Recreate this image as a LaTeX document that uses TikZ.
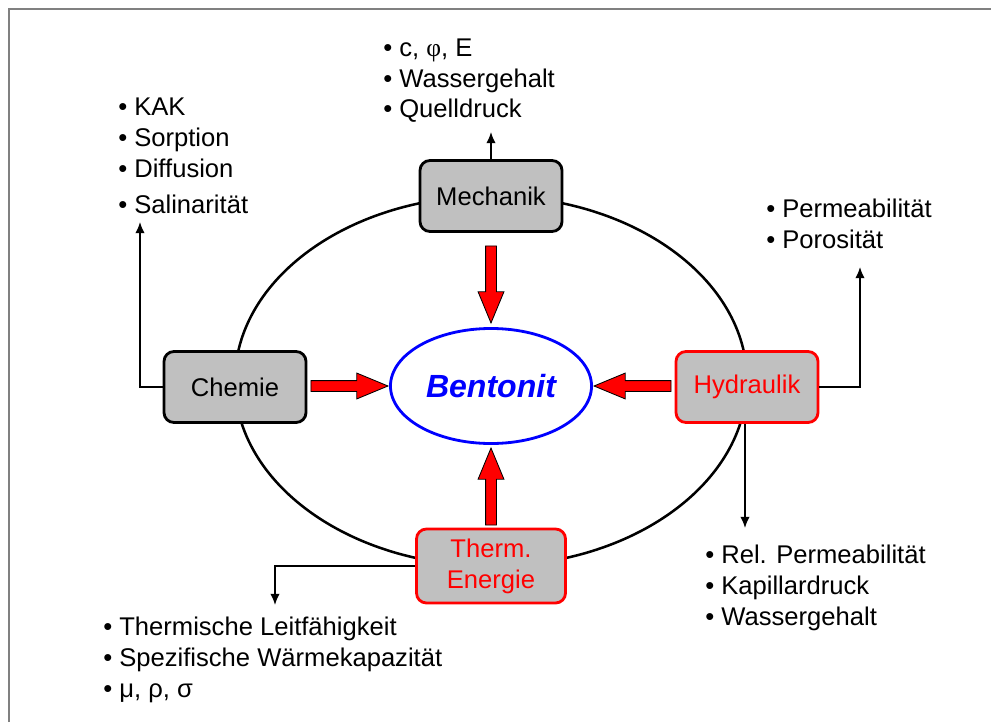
\documentclass[tikz,border=0pt]{standalone}
\usepackage{fontspec}
\setmainfont{Liberation Sans}
\newfontfamily\symbolschrift{Liberation Serif}
\usetikzlibrary{positioning, arrows.meta, calc, shapes.geometric, shapes.arrows}
\definecolor{grau}{HTML}{C0C0C0}
\definecolor{rahmen}{HTML}{808080}
\definecolor{rot}{HTML}{FF0000}
\definecolor{blau}{HTML}{0000FF}
\newcommand{\listfont}{\fontsize{18.2}{22}\selectfont}

\begin{document}
\begin{tikzpicture}[x=0.025cm, y=-0.025cm,
      kasten/.style={draw=black, line width=2pt, rounded corners=0.25cm,
        fill=grau, text=black, align=center, font=\listfont, inner sep=0pt,
        minimum width=3.55cm, minimum height=1.775cm},
      rotkasten/.style={kasten, draw=rot, text=rot},
      liste/.style={anchor=base west, align=left, inner sep=0pt, font=\listfont},
      kern/.style={ellipse, draw=blau, line width=2pt, text=blau, inner sep=0pt,
        font=\fontsize{22.8}{27}\selectfont\bfseries\itshape,
        minimum width=5.025cm, minimum height=2.875cm},
      blockpfeil/.style={single arrow, draw=black, fill=rot, line width=0.6pt,
        inner sep=0pt, text height=0.25cm, text depth=0pt,
        minimum height=1.925cm, minimum width=0.625cm,
        single arrow head extend=0.1875cm, single arrow tip angle=45},
      pfeil/.style={-{Latex[length=2.8mm, width=2.4mm]}, line width=1.3pt}]
    \useasboundingbox (0,0) rectangle (991,722);
    \draw[rahmen, line width=1.5pt] (9,722) -- (9,9) -- (991,9);
    % Ring hinter den Kaesten
    \draw[line width=1.8pt] (491,381) ellipse [x radius=6.4cm, y radius=4.625cm];
    \node[kasten] (mech) at (491,196) {Mechanik};
    \node[kasten] (chem) at (235,387) {Chemie};
    \node[rotkasten] (hyd) at (747,387) {Hydraulik};
    \node[rotkasten, minimum width=3.725cm, minimum height=1.85cm] (therm) at (491,566)
      {Therm.\\Energie};
    \node[kern] (bent) at (491,386) {Bentonit};
    % Einfluesse auf den Bentonit
    \node[blockpfeil, rotate=-90, anchor=tip] at ($(bent.north)+(0,-3)$) {};
    \node[blockpfeil, anchor=tip] at (bent.west) {};
    \node[blockpfeil, rotate=180, anchor=tip] at (bent.east) {};
    \node[blockpfeil, rotate=90, anchor=tip] at ($(bent.south)+(0,2)$) {};
    % Kenngroessen (Anker auf der letzten Zeile)
    \node[liste] (mechliste) at (383,118)
      {• c, {\symbolschrift φ}, E\\• Wassergehalt\\• Quelldruck};
    \node[liste] (chemliste) at (118,213)
      {• KAK\\• Sorption\\• Diffusion\\[3.5pt]• Salinarität};
    \node[liste] (hydoben) at (766,248) {• Permeabilität\\• Porosität};
    \node[liste] (hydunten) at (705,625)
      {• Rel. Permeabilität\\• Kapillardruck\\• Wassergehalt};
    \node[liste] (thermliste) at (103,697)
      {• Thermische Leitfähigkeit\\• Spezifische Wärmekapazität\\• μ, ρ, σ};
    \coordinate (mechziel) at (491,132);
    \coordinate (chemziel) at (140,222);
    \coordinate (hydziel) at (860,267);
    \coordinate (hydunterziel) at (745,528);
    \coordinate (thermziel) at (275,605);
    \draw[pfeil] (mech.north) -- (mech.north |- mechziel);
    \draw[pfeil] (chem.west) -| (chemziel);
    \draw[pfeil] (hyd.east) -| (hydziel);
    \draw[pfeil] (hyd.south -| hydunterziel) -- (hydunterziel);
    \draw[pfeil] (therm.west) -| (thermziel);
  \end{tikzpicture}
\end{document}
